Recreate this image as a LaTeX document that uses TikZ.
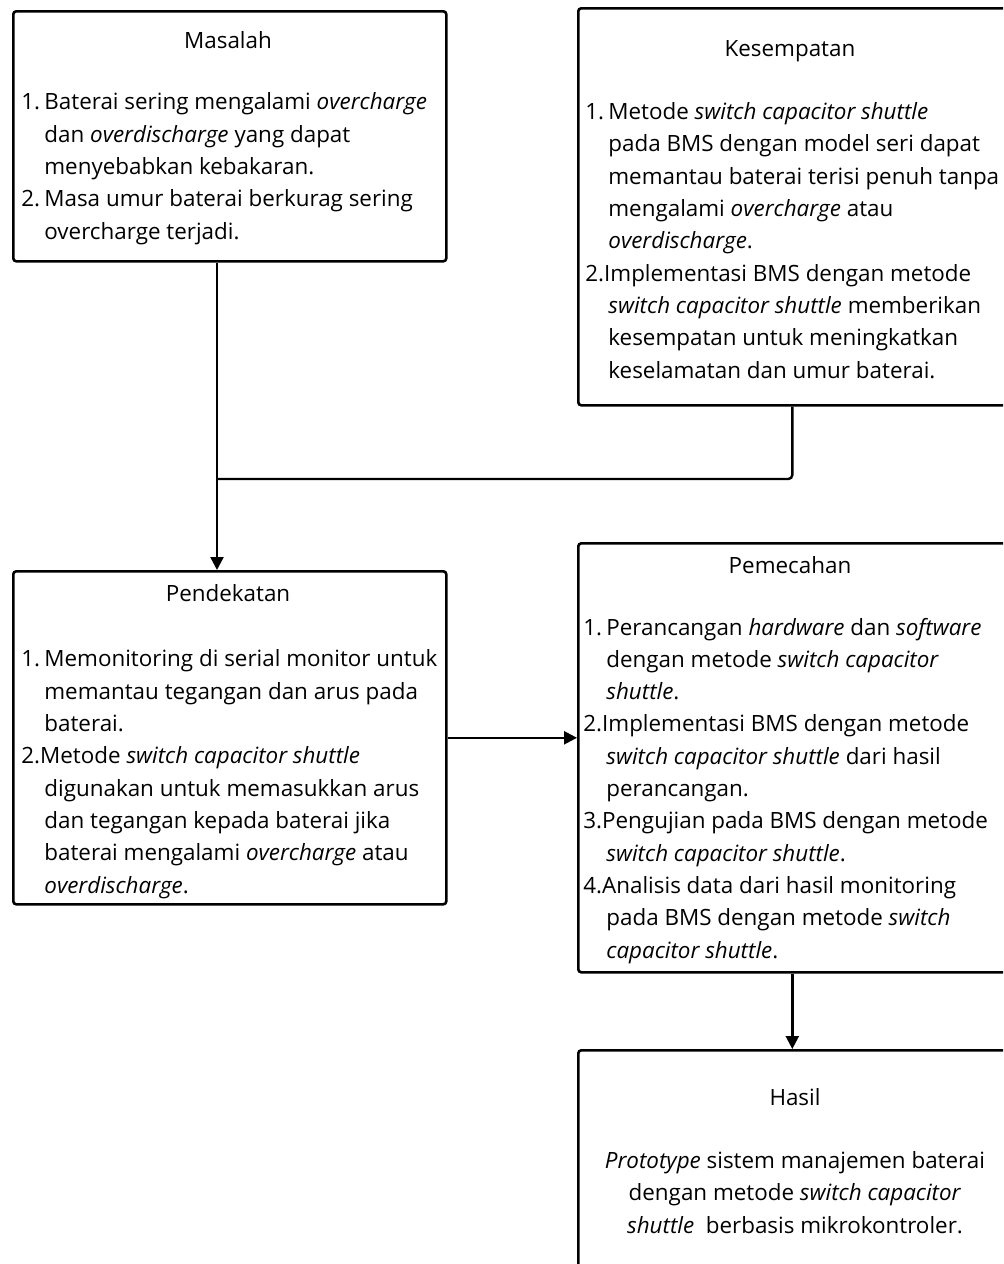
\documentclass[tikz,border=0pt]{standalone}
\usepackage{fontspec}
\setmainfont{Open Sans}
\usetikzlibrary{arrows.meta,positioning}
\tikzset{
  box/.style={draw, line width=1.3pt, rounded corners=1.5pt, anchor=north west, inner sep=0pt},
  title/.style={anchor=base, inner sep=0pt, font=\fontsize{11.2}{16.15}\selectfont},
  body/.style={align=left, anchor=base west, inner sep=0pt, font=\fontsize{11.2}{16.15}\selectfont},
  line/.style={line width=1.2pt, rounded corners=2pt},
  arrow/.style={line, -{Triangle[length=6.5pt,width=6.5pt]}}
}
\newcommand{\itemno}[1]{\makebox[11.5pt][l]{#1}}
\newcommand{\indt}{\hspace*{11.5pt}}
\begin{document}
\begin{tikzpicture}[x=0.5pt,y=-0.5pt]
        \useasboundingbox (0,0) rectangle (1003,1264);
        \clip (0,0) rectangle (1003,1264);
        % boxes
        \node[box, minimum width=216.5pt, minimum height=125pt]   (masalah)    at (12,10)    {};
        \node[box, minimum width=214pt,   minimum height=198.5pt] (kesempatan) at (577,7)    {};
        \node[box, minimum width=216.5pt, minimum height=166.5pt] (pendekatan) at (12,570)   {};
        \node[box, minimum width=214pt,   minimum height=214.5pt] (pemecahan)  at (577,542)  {};
        \node[box, minimum width=214pt,   minimum height=130pt]   (hasil)      at (577,1049) {};
        % titles
        \node[title] (masalah-t)    at (228,48)   {Masalah};
        \node[title] (kesempatan-t) at (790,56)   {Kesempatan};
        \node[title] (pendekatan-t) at (228,601)  {Pendekatan};
        \node[title] (pemecahan-t)  at (790,573)  {Pemecahan};
        \node[title] (hasil-t)      at (795,1105) {Hasil};
        % texts (placed by the baseline of the last line)
        \node[body] (masalah-b) at (21,239) {%
          \itemno{1.}Baterai sering mengalami \textit{overcharge}\\
          \indt dan \textit{overdischarge} yang dapat\\
          \indt menyebabkan kebakaran.\\
          \itemno{2.}Masa umur baterai berkurag sering\\
          \indt overcharge terjadi.};
        \node[body] (kesempatan-b) at (585,378) {%
          \itemno{1.}Metode \textit{switch capacitor shuttle}\\
          \indt pada BMS dengan model seri dapat\\
          \indt memantau baterai terisi penuh tanpa\\
          \indt mengalami \textit{overcharge} atau\\
          \indt \textit{overdischarge}.\\
          2.Implementasi BMS dengan metode\\
          \indt \textit{switch capacitor shuttle} memberikan\\
          \indt kesempatan untuk meningkatkan\\
          \indt keselamatan dan umur baterai.};
        \node[body] (pendekatan-b) at (21,893) {%
          \itemno{1.}Memonitoring di serial monitor untuk\\
          \indt memantau tegangan dan arus pada\\
          \indt baterai.\\
          2.Metode \textit{switch capacitor shuttle}\\
          \indt digunakan untuk memasukkan arus\\
          \indt dan tegangan kepada baterai jika\\
          \indt baterai mengalami \textit{overcharge} atau\\
          \indt \textit{overdischarge}.};
        \node[body] (pemecahan-b) at (583,958) {%
          \itemno{1.}Perancangan \textit{hardware} dan \textit{software}\\
          \indt dengan metode \textit{switch capacitor}\\
          \indt \textit{shuttle}.\\
          2.Implementasi BMS dengan metode\\
          \indt \textit{switch capacitor shuttle} dari hasil\\
          \indt perancangan.\\
          3.Pengujian pada BMS dengan metode\\
          \indt \textit{switch capacitor shuttle}.\\
          4.Analisis data dari hasil monitoring\\
          \indt pada BMS dengan metode \textit{switch}\\
          \indt \textit{capacitor shuttle}.};
        \node[body, align=center, anchor=base] (hasil-b) at (795,1233) {%
          \textit{Prototype} sistem manajemen baterai\\
          dengan metode \textit{switch capacitor}\\
          \textit{shuttle}\ \ berbasis mikrokontroler.};
        % connectors
        \coordinate (join) at (217,479);
        \draw[line]  (kesempatan.south) |- (join);
        \draw[arrow] (masalah.south -| join) -- (pendekatan.north -| join);
        \draw[arrow] (pendekatan.east) -- (pendekatan.east -| pemecahan.west);
        \draw[arrow] (pemecahan.south) -- (hasil.north);
      \end{tikzpicture}
\end{document}
